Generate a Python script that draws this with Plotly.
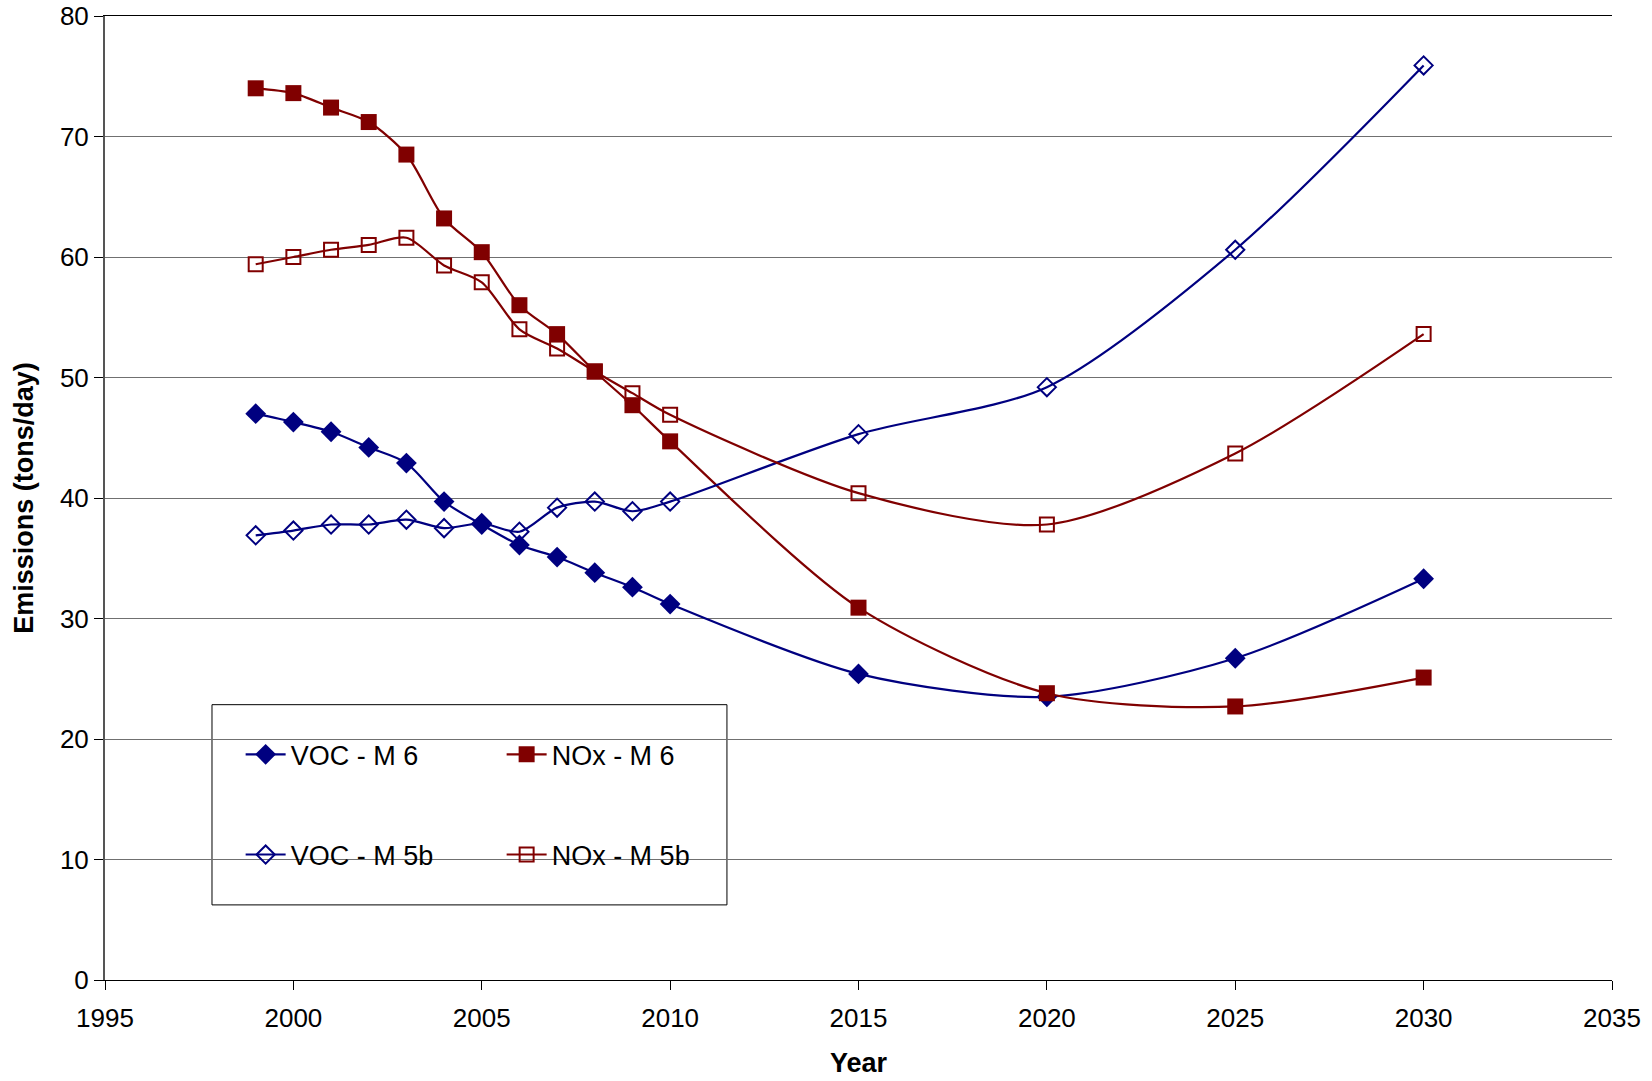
import plotly.graph_objects as go

# Emission projections, tons/day
years = [1999, 2000, 2001, 2002, 2003, 2004, 2005, 2006, 2007, 2008, 2009, 2010, 2015, 2020, 2025, 2030]

voc_m6 = [47.0, 46.3, 45.5, 44.2, 42.9, 39.7, 37.8, 36.1, 35.1, 33.8, 32.6, 31.2, 25.4, 23.5, 26.7, 33.3]
nox_m6 = [74.0, 73.6, 72.4, 71.2, 68.5, 63.2, 60.4, 56.0, 53.6, 50.5, 47.7, 44.7, 30.9, 23.8, 22.7, 25.1]
voc_m5b = [36.9, 37.3, 37.8, 37.8, 38.2, 37.5, 37.9, 37.2, 39.2, 39.7, 38.9, 39.7, 45.3, 49.2, 60.6, 75.9]
nox_m5b = [59.4, 60.0, 60.6, 61.0, 61.6, 59.3, 57.9, 54.0, 52.4, 50.5, 48.7, 46.9, 40.4, 37.8, 43.7, 53.6]

x_ticks = [1995, 2000, 2005, 2010, 2015, 2020, 2025, 2030, 2035]
y_ticks = [0, 10, 20, 30, 40, 50, 60, 70, 80]

NAVY = "#000080"
MAROON = "#800000"
FONT = "Liberation Sans, Arial, sans-serif"

# name, values, colour, marker symbol, marker size, legend row
series = [
    ("VOC - M 6", voc_m6, NAVY, "diamond", 16, "legend"),
    ("NOx - M 6", nox_m6, MAROON, "square", 16, "legend"),
    ("VOC - M 5b", voc_m5b, NAVY, "diamond-open", 14, "legend2"),
    ("NOx - M 5b", nox_m5b, MAROON, "square-open", 14, "legend2"),
]

fig = go.Figure()
for name, vals, color, symbol, size, leg in series:
    is_open = symbol.endswith("open")
    fig.add_trace(go.Scatter(
        x=years, y=vals, name=name, mode="lines+markers",
        line=dict(color=color, width=2.2, shape="spline", smoothing=0.8),
        marker=dict(symbol=symbol, size=size, color=color,
                    line=dict(color=color, width=2 if is_open else 0)),
        legend=leg,
    ))

# legend frame
fig.add_shape(type="rect", xref="paper", yref="paper",
              x0=0.071, x1=0.4127, y0=0.0779, y1=0.2856,
              line=dict(color="#000000", width=1), fillcolor="white", layer="below")

legend_common = dict(
    orientation="h", xanchor="left", yanchor="middle",
    font=dict(family=FONT, size=27, color="black"),
    bgcolor="rgba(0,0,0,0)", borderwidth=0,
    entrywidth=206, entrywidthmode="pixels", itemwidth=40,
)

fig.update_layout(
    width=1652, height=1081,
    margin=dict(l=105, r=40, t=16, b=101),
    paper_bgcolor="white", plot_bgcolor="white",
    font=dict(family=FONT, size=26, color="black"),
    legend=dict(x=0.090, y=0.2336, **legend_common),
    legend2=dict(x=0.090, y=0.1297, **legend_common),
    xaxis=dict(
        range=[1995, 2035], tickvals=x_ticks, ticktext=[str(v) for v in x_ticks],
        showgrid=False, zeroline=False, automargin=False,
        showline=True, linecolor="#000000", linewidth=1, mirror=True,
        ticks="outside", ticklen=9, tickcolor="#000000", ticklabelstandoff=6,
        tickfont=dict(family=FONT, size=26),
        title=dict(text="<b>Year</b>", font=dict(family=FONT, size=27), standoff=20),
    ),
    yaxis=dict(
        range=[0, 80], tickvals=y_ticks,
        showgrid=True, gridcolor="#707070", gridwidth=1, zeroline=False, automargin=False,
        showline=True, linecolor="#555555", linewidth=2, mirror=False,
        ticks="outside", ticklen=9, tickcolor="#000000",
        tickfont=dict(family=FONT, size=26),
        title=dict(text="<b>Emissions (tons/day)</b>", font=dict(family=FONT, size=27), standoff=18),
    ),
)

fig.write_html("out.html")
